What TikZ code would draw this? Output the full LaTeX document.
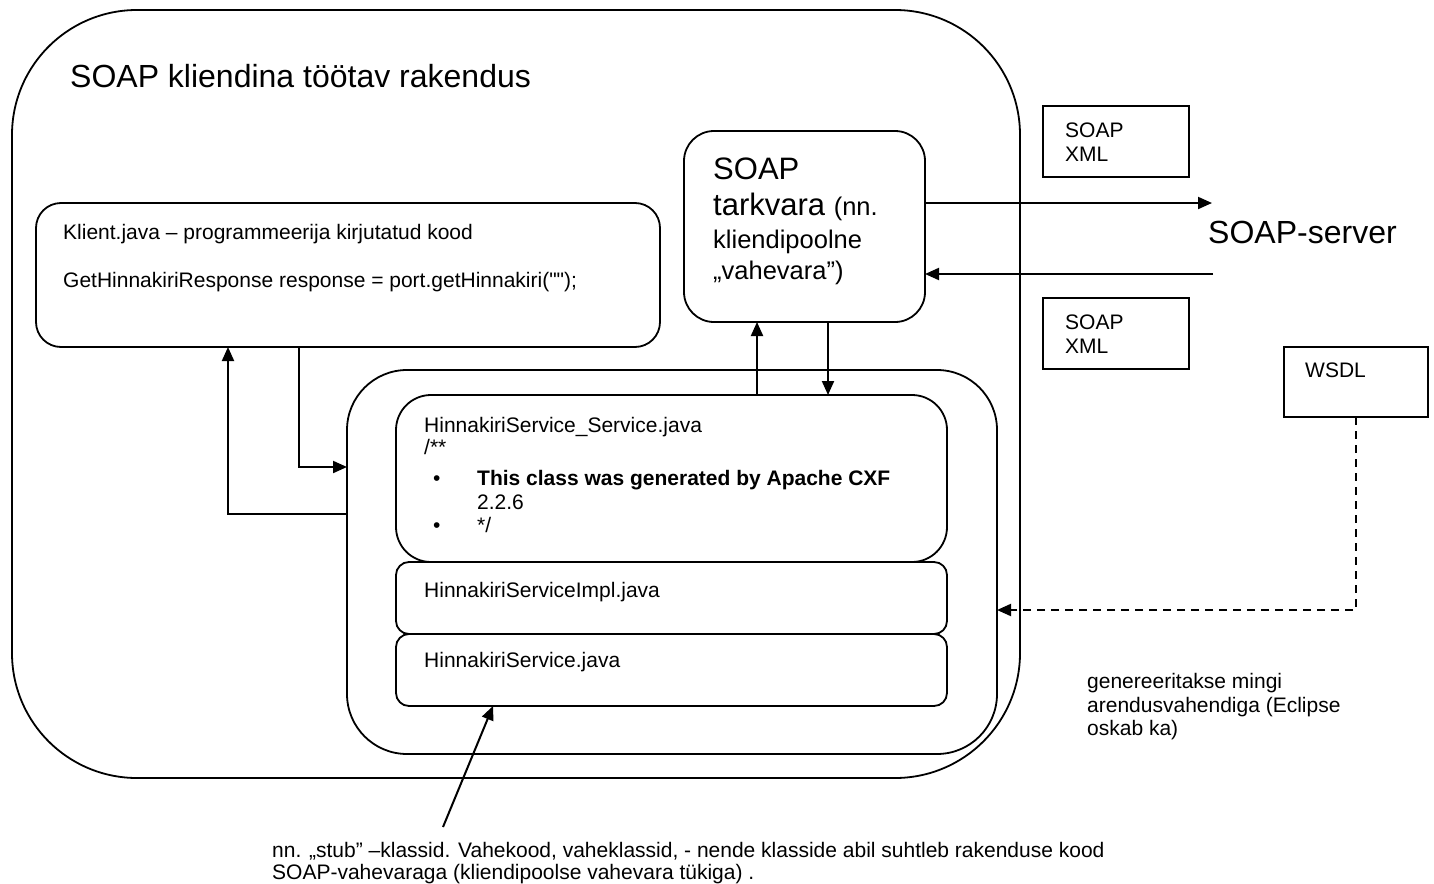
\documentclass[tikz,border=0pt]{standalone}
\usepackage{fontspec}
\setmainfont{Liberation Sans}
\newfontfamily\rawf{Liberation Sans}
\usetikzlibrary{arrows.meta}
\newcommand\fbody{\fontsize{21}{24}\selectfont}
\newcommand\fbig{\fontsize{32}{38}\selectfont}
\newcommand\fsoap{\fontsize{31}{36}\selectfont}
\newcommand\fmid{\fontsize{25.5}{30}\selectfont}
\begin{document}
\begin{tikzpicture}[x=1pt,y=-1pt,
  rbox/.style={draw, line width=1.8pt, inner sep=0pt, outer sep=0pt, anchor=north west},
  sbox/.style={draw, line width=1.5pt, inner sep=0pt, outer sep=0pt, anchor=north west},
  conn/.style={line width=2pt, -{Triangle[length=14pt,width=12pt]}},
  dconn/.style={conn, dash pattern=on 8pt off 6pt},
  lbl/.style={anchor=base west, inner sep=0pt, font=\fbody},
]
\useasboundingbox (0,0) rectangle (1434,883);
% outer application box
\node[rbox, rounded corners=125pt, minimum width=1008pt, minimum height=768pt] (outer) at (12,10) {};
\node[lbl, font=\fbig] (title) at (70,88) {SOAP kliendina töötav rakendus};
% client code box
\node[rbox, rounded corners=25pt, minimum width=624pt, minimum height=144pt] (klient) at (36,203) {};
\node[lbl] (k1) at (63,239) {Klient.java – programmeerija kirjutatud kood};
\node[lbl] (k2) at (63,287) {GetHinnakiriResponse response = port.getHinnakiri{\rawf ("");}};
% SOAP middleware box
\node[rbox, rounded corners=30pt, minimum width=241pt, minimum height=191pt] (soap) at (684,131) {};
\node[lbl, font=\fsoap] (s1) at (713,179) {SOAP};
\node[lbl, font=\fsoap] (s2) at (713,215) {tarkvara {\fmid (nn.}};
\node[lbl, font=\fmid] (s3) at (713,248) {kliendipoolne};
\node[lbl, font=\fmid] (s4) at (713,279) {„vahevara”)};
% server side
\node[lbl, font=\fbig] (server) at (1208,243) {SOAP-server};
\node[sbox, minimum width=146pt, minimum height=71pt] (xml1) at (1043,106) {};
\node[lbl] (x1a) at (1065,137) {SOAP};
\node[lbl] (x1b) at (1065,161) {XML};
\node[sbox, minimum width=146pt, minimum height=71pt] (xml2) at (1043,298) {};
\node[lbl] (x2a) at (1065,329) {SOAP};
\node[lbl] (x2b) at (1065,353) {XML};
\node[sbox, minimum width=144pt, minimum height=70pt] (wsdl) at (1284,347) {};
\node[lbl] (w1) at (1305,377) {WSDL};
% stub container
\node[rbox, rounded corners=60pt, minimum width=650pt, minimum height=384pt] (cont) at (347,370) {};
\node[rbox, rounded corners=35pt, minimum width=551pt, minimum height=167pt] (b1) at (396,395) {};
\node[rbox, rounded corners=13pt, minimum width=551pt, minimum height=72pt] (b2) at (396,562) {};
\node[rbox, rounded corners=13pt, minimum width=551pt, minimum height=72pt] (b3) at (396,634) {};
\node[lbl] (t1) at (424,432) {HinnakiriService\_Service.java};
\node[lbl] (t2) at (424,454) {/**};
\node[lbl] (bu1) at (433,485) {\textbullet};
\node[lbl] (t3) at (477,485) {\bfseries This class was generated by Apache CXF};
\node[lbl] (t4) at (477,509) {2.2.6};
\node[lbl] (bu2) at (433,532) {\textbullet};
\node[lbl] (t5) at (477,532) {*/};
\node[lbl] (t6) at (424,597) {HinnakiriServiceImpl.java};
\node[lbl] (t7) at (424,667) {HinnakiriService.java};
% notes
\node[lbl] (n1) at (1087,688) {genereeritakse mingi};
\node[lbl] (n2) at (1087,712) {arendusvahendiga (Eclipse};
\node[lbl] (n3) at (1087,735) {oskab ka)};
\node[lbl] (m1) at (272,857) {nn. „stub” –klassid. Vahekood, vaheklassid, - nende klasside abil suhtleb rakenduse kood};
\node[lbl] (m2) at (272,879) {SOAP-vahevaraga (kliendipoolse vahevara tükiga) .};
% helper coordinates
\coordinate (kx) at (299,0);
\coordinate (ky) at (0,467);
\coordinate (bx) at (228,0);
\coordinate (by) at (0,514);
\coordinate (ux) at (757,0);
\coordinate (dx) at (828,0);
\coordinate (dy) at (0,610);
\coordinate (tipx) at (493,0);
\coordinate (srvin) at (1212,203);
\coordinate (srvout) at (1213,274);
\coordinate (stubtail) at (443,827);
% connectors
\draw[conn] (klient.south -| kx) |- (cont.west |- ky);
\draw[conn] (cont.west |- by) -| (klient.south -| bx);
\draw[conn] (b1.north -| ux) -- (soap.south -| ux);
\draw[conn] (soap.south -| dx) -- (b1.north -| dx);
\draw[conn] (soap.east |- srvin) -- (srvin);
\draw[conn] (srvout) -- (soap.east |- srvout);
\draw[dconn] (wsdl.south) |- (cont.east |- dy);
\draw[conn] (stubtail) -- (b3.south -| tipx);
\end{tikzpicture}
\end{document}
